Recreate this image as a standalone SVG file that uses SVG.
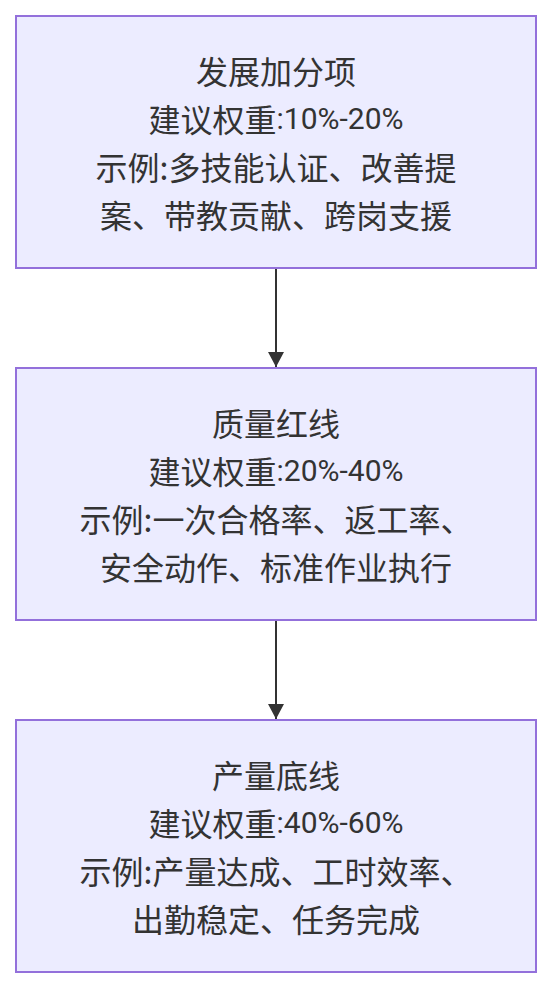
<svg xmlns="http://www.w3.org/2000/svg" width="552" height="988" viewBox="0 0 552 988">
<style>
.box{fill:#ECECFF;stroke:#9370DB;stroke-width:2}
.t{font-family:"Noto Sans CJK SC","Noto Sans",sans-serif;font-size:32px;fill:#333;text-anchor:middle;dominant-baseline:central}
.l{font-family:Roboto,"Noto Sans",sans-serif;font-size:30px}
.edge{stroke:#333;stroke-width:2;fill:none}
</style>
<defs>
<marker id="arrow" markerWidth="16" markerHeight="16" refX="8" refY="15" orient="0" markerUnits="userSpaceOnUse" viewBox="0 0 16 16">
<path d="M0,0 L16,0 L8,15 Z" fill="#333"/>
</marker>
</defs>
<rect width="552" height="988" fill="#ffffff"/>
<g id="edges">
<line class="edge" x1="276" y1="268" x2="276" y2="367" marker-end="url(#arrow)"/>
<line class="edge" x1="276" y1="620" x2="276" y2="719" marker-end="url(#arrow)"/>
</g>
<g id="node-dev">
<rect class="box" x="16" y="16" width="520" height="252"/>
<text class="t" x="276" y="70">发展加分项</text>
<text class="t" x="276" y="118">建议权重<tspan class="l">:10%-20%</tspan></text>
<text class="t" x="276" y="166">示例:多技能认证、改善提</text>
<text class="t" x="276" y="214">案、带教贡献、跨岗支援</text>
</g>
<g id="node-quality">
<rect class="box" x="16" y="368" width="520" height="252"/>
<text class="t" x="276" y="422">质量红线</text>
<text class="t" x="276" y="470">建议权重<tspan class="l">:20%-40%</tspan></text>
<text class="t" x="276" y="518">示例:一次合格率、返工率、</text>
<text class="t" x="276" y="566">安全动作、标准作业执行</text>
</g>
<g id="node-output">
<rect class="box" x="16" y="720" width="520" height="252"/>
<text class="t" x="276" y="774">产量底线</text>
<text class="t" x="276" y="822">建议权重<tspan class="l">:40%-60%</tspan></text>
<text class="t" x="276" y="870">示例:产量达成、工时效率、</text>
<text class="t" x="276" y="918">出勤稳定、任务完成</text>
</g>
</svg>
